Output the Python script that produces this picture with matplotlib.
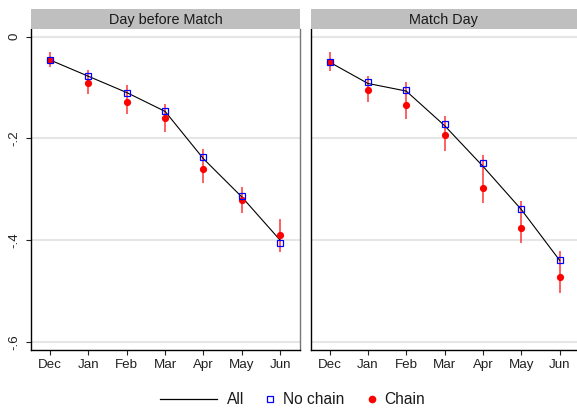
import matplotlib
matplotlib.use('Agg')
import matplotlib.pyplot as plt
from matplotlib.lines import Line2D

plt.rcParams['font.family'] = ['Liberation Sans', 'DejaVu Sans']

months = ['Dec', 'Jan', 'Feb', 'Mar', 'Apr', 'May', 'Jun']
panels = ['Day before Match', 'Match Day']
legend_labels = ['All', 'No chain', 'Chain']

# Day before Match
all_before = [-0.046, -0.078, -0.110, -0.147, -0.240, -0.315, -0.400]
nochain_before = [-0.046, -0.078, -0.111, -0.147, -0.237, -0.313, -0.405]
chain_before = [-0.046, -0.092, -0.128, -0.160, -0.260, -0.321, -0.389]
chain_lo_before = [-0.059, -0.113, -0.153, -0.187, -0.287, -0.347, -0.423]
chain_hi_before = [-0.030, -0.065, -0.096, -0.132, -0.221, -0.295, -0.359]

# Match Day
all_match = [-0.050, -0.092, -0.107, -0.175, -0.255, -0.340, -0.440]
nochain_match = [-0.050, -0.089, -0.104, -0.171, -0.249, -0.339, -0.440]
chain_match = [-0.050, -0.104, -0.134, -0.193, -0.297, -0.377, -0.472]
chain_lo_match = [-0.067, -0.128, -0.162, -0.224, -0.328, -0.406, -0.503]
chain_hi_match = [-0.031, -0.077, -0.090, -0.156, -0.232, -0.323, -0.421]

data = [
    (all_before, nochain_before, chain_before, chain_lo_before, chain_hi_before),
    (all_match, nochain_match, chain_match, chain_lo_match, chain_hi_match),
]

W, H = 577, 409
fig = plt.figure(figsize=(W / 100, H / 100), dpi=100)

# panel boxes in pixels: left, right, top, bottom
boxes = [(31, 300, 29, 350), (310.7, 577, 29, 350)]
xlims = [(-0.5, 6.52), (-0.49, 6.45)]
strip_top = 8.5

x = list(range(len(months)))

for i, (l, r, t, b) in enumerate(boxes):
    ax = fig.add_axes([l / W, (H - b) / H, (r - l) / W, (b - t) / H])
    all_v, nc, ch, lo, hi = data[i]

    ax.set_ylim(-0.616, 0.015)
    ax.set_xlim(*xlims[i])
    ax.set_yticks([0, -0.2, -0.4, -0.6])
    ax.set_yticklabels(['0', '-.2', '-.4', '-.6'], rotation=90, va='center')
    ax.set_xticks(x)
    ax.set_xticklabels(months)
    for yv in [0, -0.2, -0.4, -0.6]:
        ax.axhline(yv, color='#e6e6e6', lw=1.5, zorder=0)

    ax.vlines(x, lo, hi, color='#ff2a2a', lw=1.3, alpha=0.8, zorder=2)
    ax.plot(x, all_v, color='black', lw=0.8, zorder=3)
    ax.plot(x, ch, 'o', color='red', markersize=5.2, markeredgewidth=0, zorder=4)
    ax.plot(x, nc, 's', markerfacecolor='none', markeredgecolor='blue',
            markersize=5, markeredgewidth=0.9, zorder=5)

    ax.tick_params(axis='both', direction='out', length=3.5, width=0.8,
                   labelsize=9.6, colors='#222222', pad=3)
    ax.tick_params(axis='y', pad=4)
    ax.spines['top'].set_visible(False)
    ax.spines['left'].set_color('black')
    ax.spines['bottom'].set_color('black')
    ax.spines['left'].set_linewidth(1.0)
    ax.spines['bottom'].set_linewidth(1.0)
    if i == 0:
        ax.spines['right'].set_color('#777777')
        ax.spines['right'].set_linewidth(1.0)
    else:
        ax.spines['right'].set_visible(False)
    if i == 1:
        ax.set_yticklabels([])
        ax.tick_params(axis='y', length=0)

    # title strip
    sax = fig.add_axes([l / W, (H - t) / H, (r - l) / W, (t - strip_top) / H])
    sax.set_facecolor('#bfbfbf')
    sax.set_xticks([])
    sax.set_yticks([])
    for s in sax.spines.values():
        s.set_visible(False)
    sax.text(0.5, 0.45, panels[i], ha='center', va='center', fontsize=10.4,
             color='#1a1a1a', transform=sax.transAxes)

# legend, laid out by hand to match the compact Stata look
ly = (H - 399) / H
fig.add_artist(Line2D([160 / W, 217 / W], [ly, ly], color='black', lw=0.9))
fig.add_artist(Line2D([270 / W], [ly], marker='s', ls='none',
                      markerfacecolor='none', markeredgecolor='blue',
                      markersize=5, markeredgewidth=0.9))
fig.add_artist(Line2D([372 / W], [ly], marker='o', ls='none', color='red',
                      markersize=5.5, markeredgewidth=0))
for xt, lab in zip([227, 283, 384], legend_labels):
    fig.text(xt / W, ly, lab, ha='left', va='center', fontsize=11.2,
             color='#1a1a1a')

fig.savefig('out.png', dpi=100)
